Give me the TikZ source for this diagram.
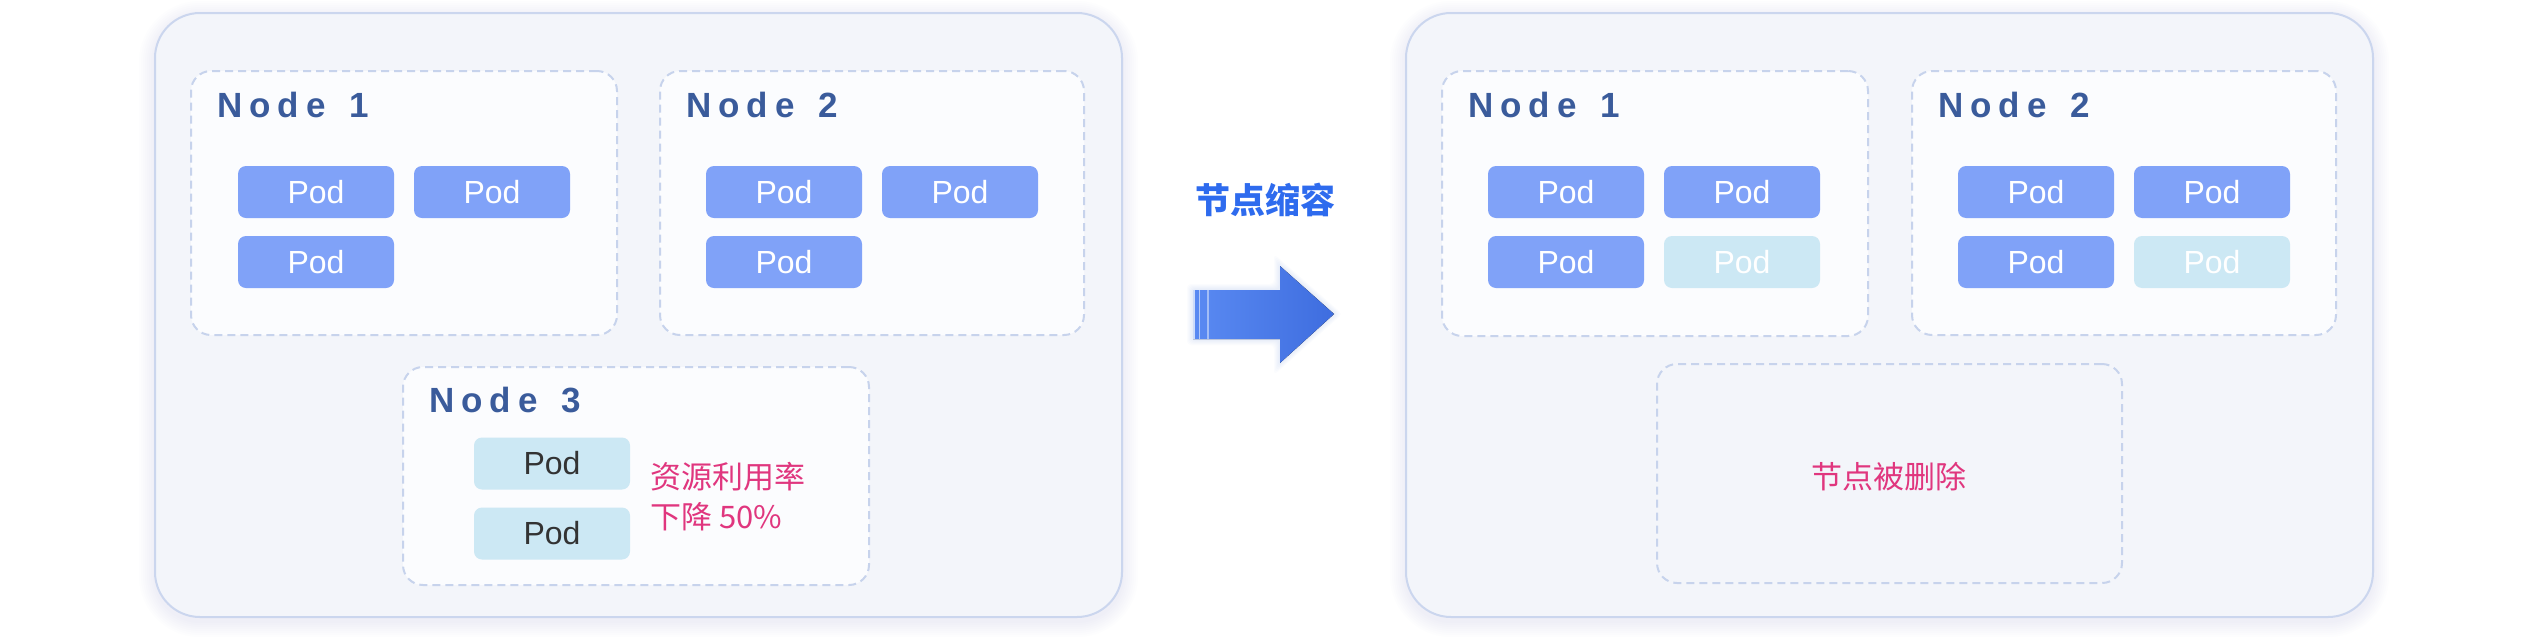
\documentclass[tikz,border=0pt]{standalone}
\usepackage{fontspec}
\setmainfont{Liberation Sans}
\newfontfamily\cjk{Noto Sans CJK SC}
\definecolor{outerfill}{HTML}{F3F5FA}
\definecolor{outerline}{HTML}{CBD6EE}
\definecolor{nodefill}{HTML}{FBFCFE}
\definecolor{nodeline}{HTML}{C7D3EC}
\definecolor{podblue}{HTML}{80A2F8}
\definecolor{podpale}{HTML}{CCE8F4}
\definecolor{labelblue}{HTML}{3A5B9B}
\definecolor{pinktext}{HTML}{E0367E}
\definecolor{arrowA}{HTML}{5A8AF2}
\definecolor{arrowB}{HTML}{3E6DDF}
\definecolor{titleblue}{HTML}{2E6BEE}
\definecolor{podgray}{HTML}{333333}
\definecolor{shadowc}{HTML}{7080B0}
\begin{document}
\begin{tikzpicture}[x=1pt,y=-1pt,
  outerbox/.style={draw=outerline, line width=2pt, fill=outerfill, rounded corners=45pt,
    minimum width=967pt, minimum height=604pt, inner sep=0pt},
  nodebox/.style={draw=nodeline, line width=2pt, dash pattern=on 8pt off 5pt, fill=nodefill,
    rounded corners=20pt, inner sep=0pt},
  pod/.style={fill=podblue, rounded corners=8pt, minimum width=156pt, minimum height=52pt,
    inner sep=0pt, text=white, font=\fontsize{32}{38}\selectfont},
  podlt/.style={pod, fill=podpale},
  podgr/.style={pod, fill=podpale, text=podgray},
  nlabel/.style={anchor=base west, inner sep=0pt, text=labelblue, font=\fontsize{35}{40}\selectfont\bfseries},
  pinklbl/.style={text=pinktext, inner sep=0pt, font=\fontsize{31}{40}\selectfont\cjk}
]
\useasboundingbox (0,0) rectangle (2538,638);
\fill[white] (0,0) rectangle (2538,638);

% soft shadows behind the panels
\foreach \i in {1,...,8}{
  \fill[shadowc, opacity=0.012, rounded corners={45pt+2*\i pt}]
    (155-2*\i,17-2*\i) rectangle (1122+2*\i,621+2*\i);
  \fill[shadowc, opacity=0.012, rounded corners={45pt+2*\i pt}]
    (1406-2*\i,17-2*\i) rectangle (2373+2*\i,621+2*\i);
}

% outer panels
\node[outerbox] (leftpanel) at (638.5,315) {};
\node[outerbox] (rightpanel) at (1889.5,315) {};

% left panel nodes
\node[nodebox, minimum width=426pt, minimum height=264pt] (ln1) at (404,203) {};
\node[nodebox, minimum width=424pt, minimum height=264pt] (ln2) at (872,203) {};
\node[nodebox, minimum width=466pt, minimum height=218pt] (ln3) at (636,476) {};

\node[nlabel] (ln1lbl) at (217,117) {N\kern7pt o\kern7pt d\kern7pt e\kern7pt{} \kern7pt 1};
\node[nlabel] (ln2lbl) at (686,117) {N\kern7pt o\kern7pt d\kern7pt e\kern7pt{} \kern7pt 2};
\node[nlabel] (ln3lbl) at (429,412) {N\kern7pt o\kern7pt d\kern7pt e\kern7pt{} \kern7pt 3};

\node[pod] (lp11) at (316,192) {Pod};
\node[pod] (lp12) at (492,192) {Pod};
\node[pod] (lp13) at (316,262) {Pod};
\node[pod] (lp21) at (784,192) {Pod};
\node[pod] (lp22) at (960,192) {Pod};
\node[pod] (lp23) at (784,262) {Pod};
\node[podgr] (lp31) at (552,463.5) {Pod};
\node[podgr] (lp32) at (552,533.5) {Pod};

\node[pinklbl, anchor=west, align=left] (util) at (650,497) {资源利用率\\下降 50\%};

% arrow
\node[inner sep=0pt, text=titleblue, font=\fontsize{35}{40}\selectfont\cjk\bfseries] (title) at (1265,200) {节点缩容};
\foreach \i in {1,...,6}{
  \fill[arrowA, opacity=0.025, rounded corners=4pt]
    (1193-\i,290-\i) -- (1280-\i,290-\i) -- (1280-\i,266-2*\i) -- (1334+1.4*\i,314) -- (1280-\i,363+2*\i) -- (1280-\i,339+\i) -- (1193-\i,339+\i) -- cycle;
}
\fill[left color=arrowA, right color=arrowB]
  (1193,290) -- (1280,290) -- (1280,266) -- (1334,314) -- (1280,363) -- (1280,339) -- (1193,339) -- cycle;
\draw[white, opacity=0.7, line width=1.5pt] (1194,290) -- (1194,339);
\draw[white, opacity=0.55, line width=1.5pt] (1199.5,290) -- (1199.5,339);
\draw[white, opacity=0.45, line width=1.5pt] (1208,290) -- (1208,339);

% right panel nodes
\node[nodebox, minimum width=426pt, minimum height=265pt] (rn1) at (1655,203.5) {};
\node[nodebox, minimum width=424pt, minimum height=264pt] (rn2) at (2124,203) {};
\node[nodebox, fill=outerfill, minimum width=465pt, minimum height=219pt] (rn3) at (1889.5,473.5) {};

\node[nlabel] (rn1lbl) at (1468,117) {N\kern7pt o\kern7pt d\kern7pt e\kern7pt{} \kern7pt 1};
\node[nlabel] (rn2lbl) at (1938,117) {N\kern7pt o\kern7pt d\kern7pt e\kern7pt{} \kern7pt 2};

\node[pod] (rp11) at (1566,192) {Pod};
\node[pod] (rp12) at (1742,192) {Pod};
\node[pod] (rp13) at (1566,262) {Pod};
\node[podlt] (rp14) at (1742,262) {Pod};
\node[pod] (rp21) at (2036,192) {Pod};
\node[pod] (rp22) at (2212,192) {Pod};
\node[pod] (rp23) at (2036,262) {Pod};
\node[podlt] (rp24) at (2212,262) {Pod};

\node[pinklbl] (deleted) at (1889,477) {节点被删除};
\end{tikzpicture}
\end{document}
